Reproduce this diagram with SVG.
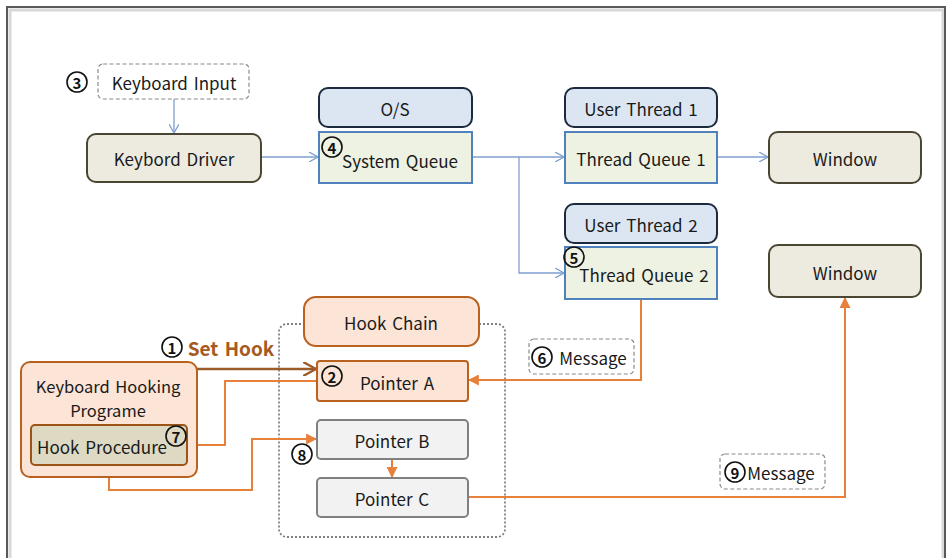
<svg xmlns="http://www.w3.org/2000/svg" width="947" height="558" viewBox="0 0 947 558">
<style>
text{font-family:"Noto Sans CJK KR","Noto Sans",sans-serif;font-size:17px;word-spacing:2px;fill:#1a1a1a;text-anchor:middle;dominant-baseline:central}
.nc{fill:#fff;stroke:#111;stroke-width:1.6}
.nd{font-size:15px;font-weight:bold;fill:#111}
.beige{fill:#EDEBE0;stroke:#4A4632;stroke-width:2}
.blue{fill:#DCE6F2;stroke:#1C2A3E;stroke-width:2}
.queue{fill:#EEF2E2;stroke:#4F81BD;stroke-width:2}
.peach{fill:#FCE4D6;stroke:#B9611F;stroke-width:2}
.proc{fill:#DDD9C3;stroke:#9C5516;stroke-width:2}
.gray{fill:#F2F2F2;stroke:#808080;stroke-width:2}
.dash{fill:#fff;stroke:#8a8a8a;stroke-width:1.2;stroke-dasharray:4 2.5}
.bl{fill:none;stroke:#7F9FCF;stroke-width:1.3}
.or{fill:none;stroke:#E7803A;stroke-width:2}
</style>
<defs>
<marker id="ob" viewBox="0 0 10 10" refX="9" refY="5" markerWidth="10" markerHeight="10" markerUnits="userSpaceOnUse" orient="auto"><path d="M0,0 L9,5 L0,10" fill="none" stroke="#7F9FCF" stroke-width="1.3"/></marker>
<marker id="fo" viewBox="0 0 10 10" refX="9" refY="5" markerWidth="11" markerHeight="11" markerUnits="userSpaceOnUse" orient="auto"><path d="M0,0 L10,5 L0,10 Z" fill="#E7803A"/></marker>
<marker id="ob2" viewBox="0 0 12 12" refX="11" refY="6" markerWidth="14" markerHeight="14" markerUnits="userSpaceOnUse" orient="auto"><path d="M0,0 L11,6 L0,12" fill="none" stroke="#9C5B2A" stroke-width="2"/></marker>
</defs>
<rect x="0" y="0" width="947" height="558" fill="#fff"/>
<rect x="10" y="10" width="933" height="560" fill="none" stroke="#d8d8d8" stroke-width="3"/>
<rect x="7" y="7" width="938" height="560" fill="none" stroke="#595959" stroke-width="2"/>

<g id="hookchain-container">
<rect x="279" y="324" width="226" height="213" rx="8" fill="none" stroke="#808080" stroke-width="1.8" stroke-dasharray="2 2"/>
</g>

<g id="connectors">
<path class="bl" d="M174,99 V133" marker-end="url(#ob)"/>
<path class="bl" d="M261,157 H318" marker-end="url(#ob)"/>
<path class="bl" d="M472,157 H564" marker-end="url(#ob)"/>
<path class="bl" d="M519,157 V273 H564" marker-end="url(#ob)"/>
<path class="bl" d="M717,157 H768" marker-end="url(#ob)"/>
<path class="or" d="M641,299 V380 H469" marker-end="url(#fo)"/>
<path d="M197,369 H316" fill="none" stroke="#9C5B2A" stroke-width="2.5" marker-end="url(#ob2)"/>
<path class="or" d="M317,381 H225 V445 H188" marker-end="url(#fo)"/>
<path class="or" d="M109,465 V490 H252 V439 H316" marker-end="url(#fo)"/>
<path class="or" d="M392,459 V477" marker-end="url(#fo)"/>
<path class="or" d="M468,497 H845 V298" marker-end="url(#fo)"/>
</g>

<g id="keyboard-input"><rect class="dash" x="98" y="64" width="151" height="35" rx="5"/><text x="174" y="82">Keyboard Input</text><circle class="nc" cx="77" cy="82" r="10"/><text class="nd" x="77" y="82">3</text></g>
<g id="keybord-driver"><rect class="beige" x="87" y="134" width="174" height="48" rx="9"/><text x="174" y="158">Keybord Driver</text></g>
<g id="os"><rect class="blue" x="319" y="88" width="153" height="39" rx="9"/><text x="395" y="108">O/S</text></g>
<g id="system-queue"><rect class="queue" x="319" y="132" width="153" height="51"/><text x="400" y="160">System Queue</text><circle class="nc" cx="332" cy="147" r="10" style="fill:none"/><text class="nd" x="332" y="147">4</text></g>
<g id="user-thread-1"><rect class="blue" x="565" y="88" width="152" height="39" rx="9"/><text x="641" y="108">User Thread 1</text></g>
<g id="thread-queue-1"><rect class="queue" x="565" y="132" width="152" height="51"/><text x="641" y="158">Thread Queue 1</text></g>
<g id="window-1"><rect class="beige" x="769" y="132" width="152" height="51" rx="9"/><text x="845" y="158">Window</text></g>
<g id="user-thread-2"><rect class="blue" x="565" y="204" width="152" height="39" rx="9"/><text x="641" y="224">User Thread 2</text></g>
<g id="thread-queue-2"><rect class="queue" x="565" y="247" width="152" height="52"/><text x="644" y="274">Thread Queue 2</text><circle class="nc" cx="574" cy="257" r="10" style="fill:none"/><text class="nd" x="574" y="257">5</text></g>
<g id="window-2"><rect class="beige" x="769" y="245" width="152" height="52" rx="9"/><text x="845" y="272">Window</text></g>
<g id="message-6"><rect class="dash" x="529" y="339" width="105" height="35" rx="5"/><circle class="nc" cx="542" cy="357" r="10"/><text class="nd" x="542" y="357">6</text><text x="593" y="357">Message</text></g>
<g id="message-9"><rect class="dash" x="720" y="454" width="105" height="35" rx="5"/><circle class="nc" cx="735" cy="472" r="10"/><text class="nd" x="735" y="472">9</text><text x="781" y="472">Message</text></g>
<g id="hook-chain"><rect class="peach" x="304" y="297" width="175" height="49" rx="12" stroke="#C8631C"/><text x="391" y="322">Hook Chain</text></g>
<g id="pointer-a"><rect class="peach" x="317" y="361" width="151" height="40" rx="3"/><text x="397" y="382">Pointer A</text><circle class="nc" cx="332" cy="376" r="10" style="fill:none"/><text class="nd" x="332" y="376">2</text></g>
<g id="pointer-b"><rect class="gray" x="317" y="420" width="151" height="39" rx="4"/><text x="392" y="440">Pointer B</text></g>
<g id="pointer-c"><rect class="gray" x="317" y="478" width="151" height="39" rx="4"/><text x="392" y="498">Pointer C</text></g>
<g id="set-hook-label"><circle class="nc" cx="172" cy="347" r="10"/><text class="nd" x="172" y="347">1</text><text x="231" y="347" style="font-weight:bold;font-size:19px;fill:#A65A22">Set Hook</text></g>
<g id="keyboard-hooking-programe"><rect class="peach" x="21" y="362" width="176" height="115" rx="9" stroke="#C0641F"/><text x="108" y="386" style="font-size:16.5px">Keyboard Hooking</text><text x="108" y="410" style="font-size:16.5px">Programe</text></g>
<g id="hook-procedure"><rect class="proc" x="31" y="425" width="156" height="40" rx="4"/><text x="37" y="446" style="text-anchor:start">Hook Procedure</text><circle class="nc" cx="176" cy="436" r="10" style="fill:none"/><text class="nd" x="176" y="436">7</text></g>
<g id="label-8"><circle class="nc" cx="302" cy="454" r="10"/><text class="nd" x="302" y="454">8</text></g>
</svg>
